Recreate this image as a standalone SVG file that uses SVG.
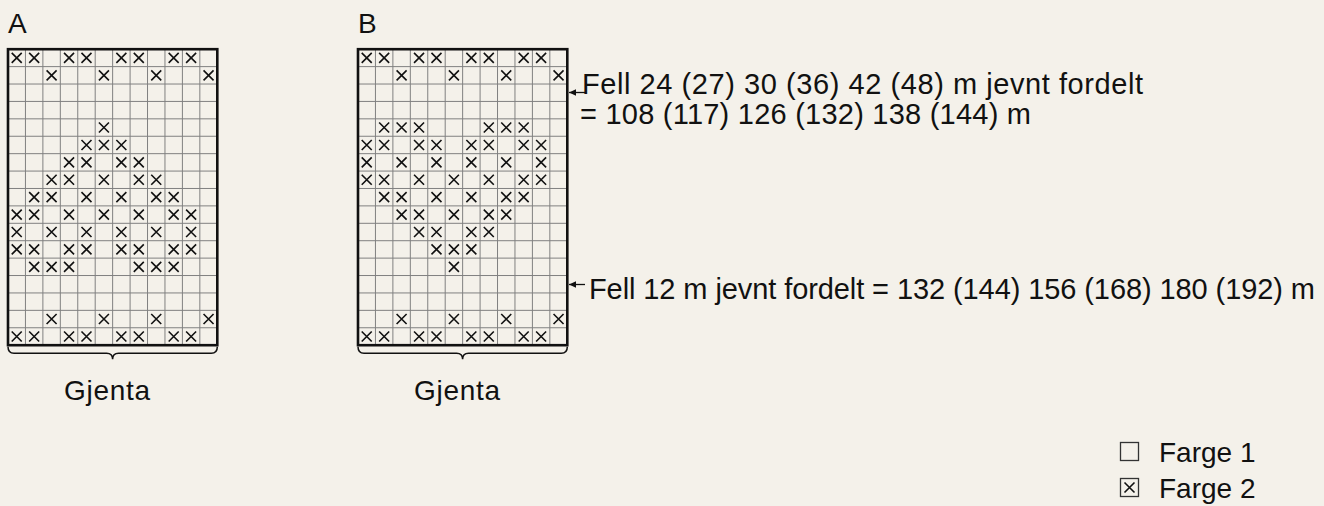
<svg xmlns="http://www.w3.org/2000/svg" xmlns:xlink="http://www.w3.org/1999/xlink" width="1324" height="506" viewBox="0 0 1324 506">
<style>
text{font-family:"Liberation Sans",Arial,Helvetica,sans-serif;font-size:28px;fill:#111}
.nt{font-size:29px}
.gl{fill:none;stroke:#808080;stroke-width:1}
.bd{fill:none;stroke:#111;stroke-width:2.6}
.x{fill:none;stroke:#111;stroke-width:1.6}
.br{fill:none;stroke:#111;stroke-width:1.5}
.ar{fill:none;stroke:#111;stroke-width:1.3}
.lb{fill:none;stroke:#333;stroke-width:1.3}
</style>
<defs>
<path id="x" class="x" d="M-5,-5L5,5M5,-5L-5,5"/>
<g id="gridlines">
<path class="gl" d="M17.44,0V296M34.88,0V296M52.32,0V296M69.76,0V296M87.2,0V296M104.64,0V296M122.08,0V296M139.52,0V296M156.96,0V296M174.4,0V296M191.84,0V296M0,17.41H209.3M0,34.82H209.3M0,52.23H209.3M0,69.64H209.3M0,87.05H209.3M0,104.46H209.3M0,121.87H209.3M0,139.28H209.3M0,156.69H209.3M0,174.1H209.3M0,191.51H209.3M0,208.92H209.3M0,226.33H209.3M0,243.74H209.3M0,261.15H209.3M0,278.56H209.3"/>
<rect class="bd" x="0" y="0" width="209.3" height="296"/>
<path class="br" d="M0,297.5Q0,304 6,304L98.6,304Q104.6,304 104.6,310Q104.6,304 110.6,304L203.3,304Q209.3,304 209.3,297.5"/>
</g>
<marker id="ah" markerWidth="8" markerHeight="8" refX="7" refY="4" orient="auto" markerUnits="userSpaceOnUse">
<path d="M0,0.8L7,4L0,7.2Z" fill="#111"/>
</marker>
</defs>
<rect width="1324" height="506" fill="#f4f1ea"/>

<g id="chart-a">
<text x="8" y="33">A</text>
<g transform="translate(8,49.2)">
<use xlink:href="#gridlines"/>
<use xlink:href="#x" x="8.72" y="8.7"/><use xlink:href="#x" x="26.16" y="8.7"/><use xlink:href="#x" x="61.04" y="8.7"/><use xlink:href="#x" x="78.48" y="8.7"/><use xlink:href="#x" x="113.36" y="8.7"/><use xlink:href="#x" x="130.8" y="8.7"/><use xlink:href="#x" x="165.68" y="8.7"/><use xlink:href="#x" x="183.12" y="8.7"/>
<use xlink:href="#x" x="43.6" y="26.11"/><use xlink:href="#x" x="95.92" y="26.11"/><use xlink:href="#x" x="148.24" y="26.11"/><use xlink:href="#x" x="200.56" y="26.11"/>
<use xlink:href="#x" x="95.92" y="78.34"/>
<use xlink:href="#x" x="78.48" y="95.75"/><use xlink:href="#x" x="95.92" y="95.75"/><use xlink:href="#x" x="113.36" y="95.75"/>
<use xlink:href="#x" x="61.04" y="113.16"/><use xlink:href="#x" x="78.48" y="113.16"/><use xlink:href="#x" x="113.36" y="113.16"/><use xlink:href="#x" x="130.8" y="113.16"/>
<use xlink:href="#x" x="43.6" y="130.57"/><use xlink:href="#x" x="61.04" y="130.57"/><use xlink:href="#x" x="95.92" y="130.57"/><use xlink:href="#x" x="130.8" y="130.57"/><use xlink:href="#x" x="148.24" y="130.57"/>
<use xlink:href="#x" x="26.16" y="147.98"/><use xlink:href="#x" x="43.6" y="147.98"/><use xlink:href="#x" x="78.48" y="147.98"/><use xlink:href="#x" x="113.36" y="147.98"/><use xlink:href="#x" x="148.24" y="147.98"/><use xlink:href="#x" x="165.68" y="147.98"/>
<use xlink:href="#x" x="8.72" y="165.39"/><use xlink:href="#x" x="26.16" y="165.39"/><use xlink:href="#x" x="61.04" y="165.39"/><use xlink:href="#x" x="95.92" y="165.39"/><use xlink:href="#x" x="130.8" y="165.39"/><use xlink:href="#x" x="165.68" y="165.39"/><use xlink:href="#x" x="183.12" y="165.39"/>
<use xlink:href="#x" x="8.72" y="182.8"/><use xlink:href="#x" x="43.6" y="182.8"/><use xlink:href="#x" x="78.48" y="182.8"/><use xlink:href="#x" x="113.36" y="182.8"/><use xlink:href="#x" x="148.24" y="182.8"/><use xlink:href="#x" x="183.12" y="182.8"/>
<use xlink:href="#x" x="8.72" y="200.21"/><use xlink:href="#x" x="26.16" y="200.21"/><use xlink:href="#x" x="61.04" y="200.21"/><use xlink:href="#x" x="78.48" y="200.21"/><use xlink:href="#x" x="113.36" y="200.21"/><use xlink:href="#x" x="130.8" y="200.21"/><use xlink:href="#x" x="165.68" y="200.21"/><use xlink:href="#x" x="183.12" y="200.21"/>
<use xlink:href="#x" x="26.16" y="217.62"/><use xlink:href="#x" x="43.6" y="217.62"/><use xlink:href="#x" x="61.04" y="217.62"/><use xlink:href="#x" x="130.8" y="217.62"/><use xlink:href="#x" x="148.24" y="217.62"/><use xlink:href="#x" x="165.68" y="217.62"/>
<use xlink:href="#x" x="43.6" y="269.85"/><use xlink:href="#x" x="95.92" y="269.85"/><use xlink:href="#x" x="148.24" y="269.85"/><use xlink:href="#x" x="200.56" y="269.85"/>
<use xlink:href="#x" x="8.72" y="287.26"/><use xlink:href="#x" x="26.16" y="287.26"/><use xlink:href="#x" x="61.04" y="287.26"/><use xlink:href="#x" x="78.48" y="287.26"/><use xlink:href="#x" x="113.36" y="287.26"/><use xlink:href="#x" x="130.8" y="287.26"/><use xlink:href="#x" x="165.68" y="287.26"/><use xlink:href="#x" x="183.12" y="287.26"/>
</g>
<text x="64" y="400" textLength="86" lengthAdjust="spacing">Gjenta</text>
</g>

<g id="chart-b">
<text x="358" y="33">B</text>
<g transform="translate(358,49.2)">
<use xlink:href="#gridlines"/>
<use xlink:href="#x" x="8.72" y="8.7"/><use xlink:href="#x" x="26.16" y="8.7"/><use xlink:href="#x" x="61.04" y="8.7"/><use xlink:href="#x" x="78.48" y="8.7"/><use xlink:href="#x" x="113.36" y="8.7"/><use xlink:href="#x" x="130.8" y="8.7"/><use xlink:href="#x" x="165.68" y="8.7"/><use xlink:href="#x" x="183.12" y="8.7"/>
<use xlink:href="#x" x="43.6" y="26.11"/><use xlink:href="#x" x="95.92" y="26.11"/><use xlink:href="#x" x="148.24" y="26.11"/><use xlink:href="#x" x="200.56" y="26.11"/>
<use xlink:href="#x" x="26.16" y="78.34"/><use xlink:href="#x" x="43.6" y="78.34"/><use xlink:href="#x" x="61.04" y="78.34"/><use xlink:href="#x" x="130.8" y="78.34"/><use xlink:href="#x" x="148.24" y="78.34"/><use xlink:href="#x" x="165.68" y="78.34"/>
<use xlink:href="#x" x="8.72" y="95.75"/><use xlink:href="#x" x="26.16" y="95.75"/><use xlink:href="#x" x="61.04" y="95.75"/><use xlink:href="#x" x="78.48" y="95.75"/><use xlink:href="#x" x="113.36" y="95.75"/><use xlink:href="#x" x="130.8" y="95.75"/><use xlink:href="#x" x="165.68" y="95.75"/><use xlink:href="#x" x="183.12" y="95.75"/>
<use xlink:href="#x" x="8.72" y="113.16"/><use xlink:href="#x" x="43.6" y="113.16"/><use xlink:href="#x" x="78.48" y="113.16"/><use xlink:href="#x" x="113.36" y="113.16"/><use xlink:href="#x" x="148.24" y="113.16"/><use xlink:href="#x" x="183.12" y="113.16"/>
<use xlink:href="#x" x="8.72" y="130.57"/><use xlink:href="#x" x="26.16" y="130.57"/><use xlink:href="#x" x="61.04" y="130.57"/><use xlink:href="#x" x="95.92" y="130.57"/><use xlink:href="#x" x="130.8" y="130.57"/><use xlink:href="#x" x="165.68" y="130.57"/><use xlink:href="#x" x="183.12" y="130.57"/>
<use xlink:href="#x" x="26.16" y="147.98"/><use xlink:href="#x" x="43.6" y="147.98"/><use xlink:href="#x" x="78.48" y="147.98"/><use xlink:href="#x" x="113.36" y="147.98"/><use xlink:href="#x" x="148.24" y="147.98"/><use xlink:href="#x" x="165.68" y="147.98"/>
<use xlink:href="#x" x="43.6" y="165.39"/><use xlink:href="#x" x="61.04" y="165.39"/><use xlink:href="#x" x="95.92" y="165.39"/><use xlink:href="#x" x="130.8" y="165.39"/><use xlink:href="#x" x="148.24" y="165.39"/>
<use xlink:href="#x" x="61.04" y="182.8"/><use xlink:href="#x" x="78.48" y="182.8"/><use xlink:href="#x" x="113.36" y="182.8"/><use xlink:href="#x" x="130.8" y="182.8"/>
<use xlink:href="#x" x="78.48" y="200.21"/><use xlink:href="#x" x="95.92" y="200.21"/><use xlink:href="#x" x="113.36" y="200.21"/>
<use xlink:href="#x" x="95.92" y="217.62"/>
<use xlink:href="#x" x="43.6" y="269.85"/><use xlink:href="#x" x="95.92" y="269.85"/><use xlink:href="#x" x="148.24" y="269.85"/><use xlink:href="#x" x="200.56" y="269.85"/>
<use xlink:href="#x" x="8.72" y="287.26"/><use xlink:href="#x" x="26.16" y="287.26"/><use xlink:href="#x" x="61.04" y="287.26"/><use xlink:href="#x" x="78.48" y="287.26"/><use xlink:href="#x" x="113.36" y="287.26"/><use xlink:href="#x" x="130.8" y="287.26"/><use xlink:href="#x" x="165.68" y="287.26"/><use xlink:href="#x" x="183.12" y="287.26"/>
</g>
<text x="414" y="400" textLength="86" lengthAdjust="spacing">Gjenta</text>
</g>

<g id="connectors">
<path class="ar" d="M585,92.5H569" marker-end="url(#ah)"/>
<path class="ar" d="M585,284.5H569" marker-end="url(#ah)"/>
</g>

<g id="note-top">
<text class="nt" x="582" y="94" textLength="561" lengthAdjust="spacing">Fell 24 (27) 30 (36) 42 (48) m jevnt fordelt</text>
<text class="nt" x="580" y="124" textLength="451" lengthAdjust="spacing">= 108 (117) 126 (132) 138 (144) m</text>
</g>

<g id="note-bottom">
<text class="nt" x="589" y="299" textLength="726" lengthAdjust="spacing">Fell 12 m jevnt fordelt = 132 (144) 156 (168) 180 (192) m</text>
</g>

<g id="legend">
<rect class="lb" x="1120.5" y="442.5" width="18" height="18"/>
<text x="1159" y="462">Farge 1</text>
<rect class="lb" x="1120.5" y="478.5" width="18" height="18"/>
<use xlink:href="#x" x="1129.5" y="487.5"/>
<text x="1159" y="498">Farge 2</text>
</g>
</svg>
